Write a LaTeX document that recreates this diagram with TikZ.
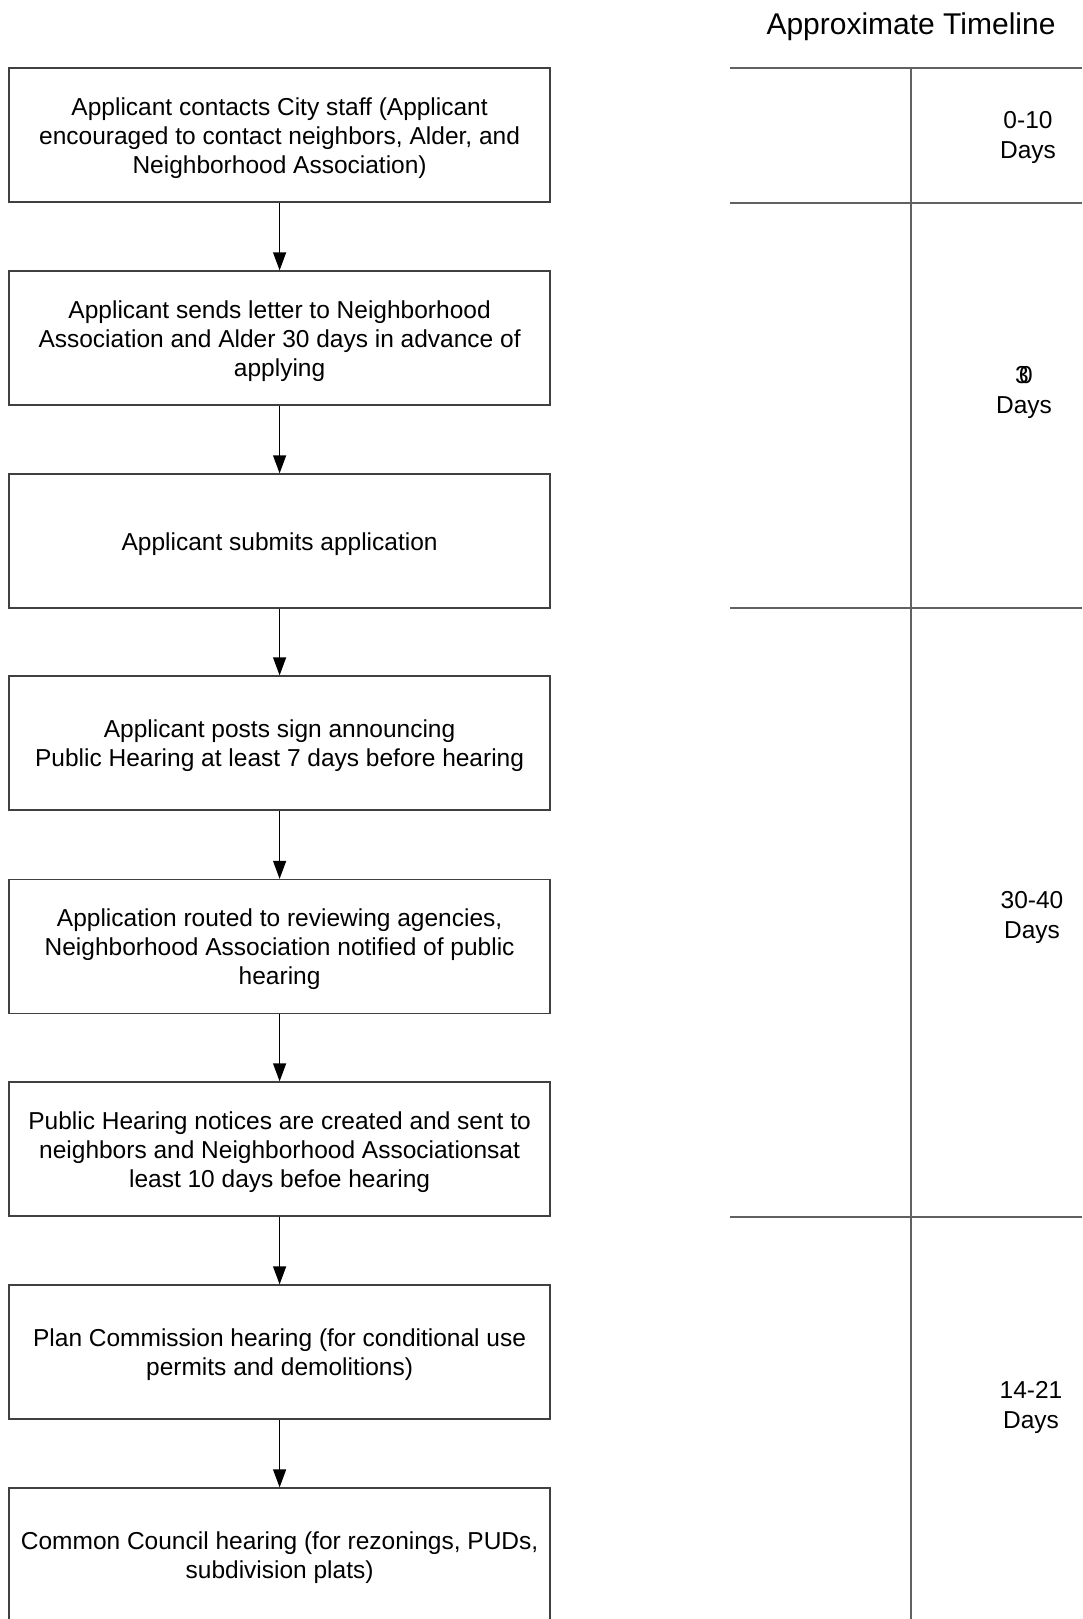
\documentclass[tikz,border=0pt]{standalone}
\usepackage{fontspec}
\setmainfont{Liberation Sans}
\usetikzlibrary{arrows.meta}
% extra height on the first line lowers the text block slightly
\newcommand\firststrut{\rule{0pt}{24pt}}
\begin{document}
\begin{tikzpicture}[x=1pt,y=-1pt,
  stepbox/.style={draw=black!75, line width=1.3pt, rectangle,
    minimum width=541pt, minimum height=134pt, inner sep=0pt,
    align=center, font=\fontsize{24.5}{29}\selectfont},
  flow/.style={draw=black, line width=1.3pt,
    -{Triangle[length=18pt,width=13pt]}},
  tline/.style={draw=black!62, line width=2pt},
  tlabel/.style={align=center, font=\fontsize{24.5}{30}\selectfont, inner sep=0pt}]
\useasboundingbox (0,0) rectangle (1082,1619);
\fill[white] (0,0) rectangle (1082,1619);

% process steps
\node[stepbox] (b1) at (279.6,135) {\firststrut Applicant contacts City staff (Applicant\\encouraged to contact neighbors, Alder, and\\Neighborhood Association)};
\node[stepbox] (b2) at (279.6,338) {\firststrut Applicant sends letter to Neighborhood\\Association and Alder 30 days in advance of\\applying};
\node[stepbox] (b3) at (279.6,541) {\firststrut Applicant submits application};
\node[stepbox] (b4) at (279.6,743) {\firststrut Applicant posts sign announcing\\Public Hearing at least 7 days before hearing};
\node[stepbox] (b5) at (279.6,946.5) {\firststrut Application routed to reviewing agencies,\\Neighborhood Association notified of public\\hearing};
\node[stepbox] (b6) at (279.6,1149) {\firststrut Public Hearing notices are created and sent to\\neighbors and Neighborhood Associationsat\\least 10 days befoe hearing};
\node[stepbox] (b7) at (279.6,1352) {\firststrut Plan Commission hearing (for conditional use\\permits and demolitions)};
\node[stepbox] (b8) at (279.6,1555) {\firststrut Common Council hearing (for rezonings, PUDs,\\subdivision plats)};

\foreach \a/\b in {b1/b2,b2/b3,b3/b4,b4/b5,b5/b6,b6/b7,b7/b8}
  \draw[flow] (\a.south) -- (\b.north);

% timeline column
\node[font=\fontsize{30}{36}\selectfont, inner sep=0pt] (title) at (911,27) {Approximate Timeline};
\coordinate (vtop) at (910.6,68);
\coordinate (vbot) at (910.6,1619);
\draw[tline] (vtop) -- (vbot);
\foreach \y/\n in {68/h0,202.5/h1,608/h2,1217/h3} {
  \coordinate (\n l) at (730,\y);
  \coordinate (\n r) at (1082,\y);
  \draw[tline] (\n l) -- (\n r);
}

\node[tlabel] (t1) at (1028,137) {0-10\\Days};
\node[tlabel] (t2) at (1024,392) {\makebox[0pt]{\rlap{3}\kern4pt 0}\\Days};
\node[tlabel] (t3) at (1032,917.5) {30-40\\Days};
\node[tlabel] (t4) at (1031,1407) {14-21\\Days};
\end{tikzpicture}
\end{document}
